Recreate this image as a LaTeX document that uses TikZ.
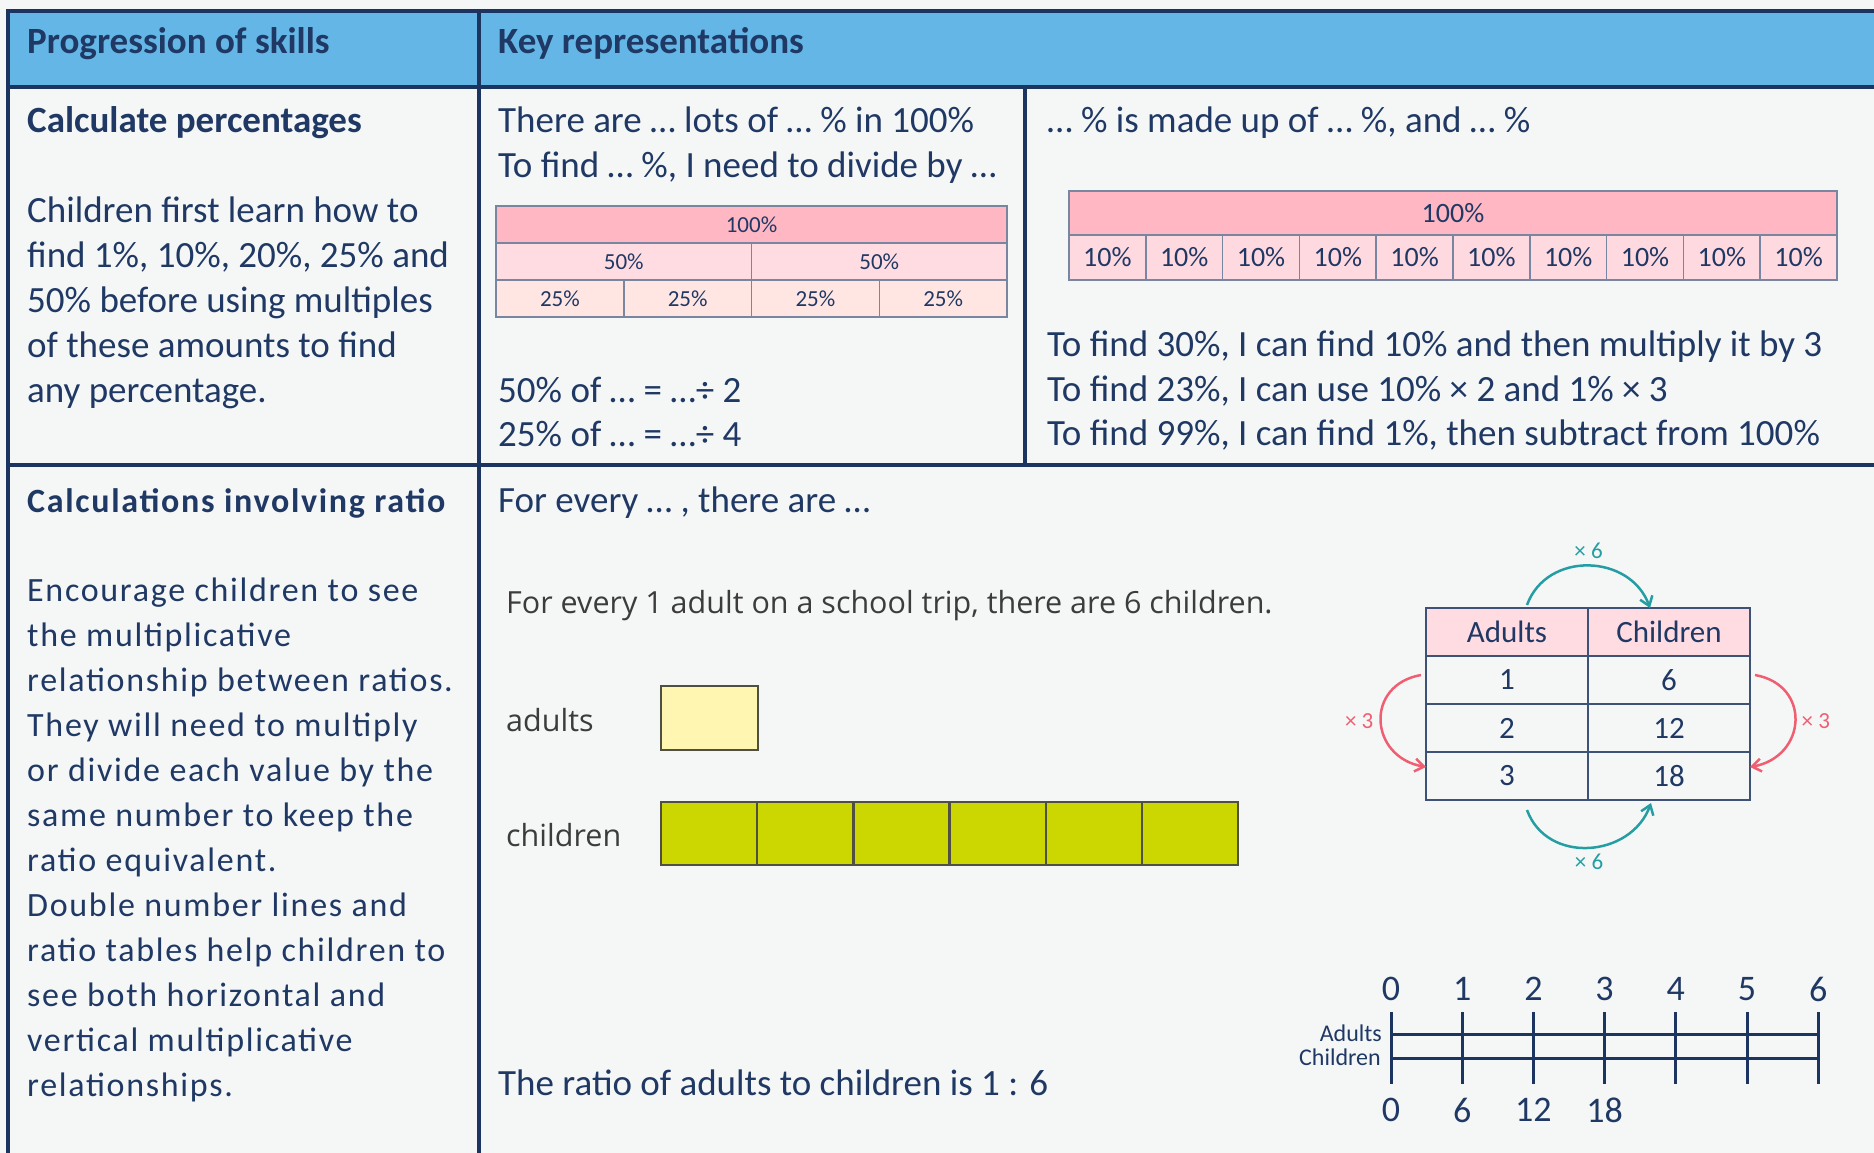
\documentclass[tikz,border=0pt]{standalone}
\usepackage{fontspec}
\setmainfont{Carlito}
\newfontfamily\spacedfont[LetterSpace=5]{Carlito}
\newfontfamily\tripfont{Open Sans}
\usetikzlibrary{arrows.meta,positioning}

\definecolor{navy}{RGB}{31,56,100}
\definecolor{gridline}{RGB}{28,52,96}
\definecolor{headblue}{RGB}{99,182,230}
\definecolor{paper}{RGB}{245,247,247}
\definecolor{pinkA}{RGB}{255,184,195}
\definecolor{pinkB}{RGB}{255,220,226}
\definecolor{pinkC}{RGB}{255,230,227}
\definecolor{pinkD}{RGB}{255,217,224}
\definecolor{barline}{RGB}{120,134,162}
\definecolor{tealarc}{RGB}{36,158,162}
\definecolor{rosearc}{RGB}{240,94,114}
\definecolor{lemon}{RGB}{255,246,178}
\definecolor{lime}{RGB}{204,214,0}
\definecolor{boxline}{RGB}{80,80,66}
\definecolor{tripgrey}{RGB}{60,60,60}

\begin{document}
\begin{tikzpicture}[x=1pt,y=-1pt,
  grid/.style={draw=gridline,line width=3.5pt},
  body/.style={text=navy,inner sep=0,anchor=base west,font=\fontsize{37}{45}\selectfont},
  head/.style={body,font=\bfseries\fontsize{37}{45}\selectfont},
  para/.style={text=navy,inner sep=0,anchor=north west,align=left},
  pct/.style={draw=barline,line width=1.5pt,inner sep=0,outer sep=0,text=navy,minimum height=37pt,font=\fontsize{23}{27}\selectfont},
  tenth/.style={draw=barline,line width=1.5pt,inner sep=0,outer sep=0,text=navy,font=\fontsize{28}{33}\selectfont},
  trip/.style={text=tripgrey,inner sep=0,font=\tripfont\fontsize{30.5}{36}\selectfont},
  block/.style={draw=boxline,line width=2.5pt,inner sep=0,outer sep=0,minimum height=63pt},
  cell/.style={draw=gridline!85,line width=2.5pt,inner sep=0,outer sep=0,minimum width=162pt,minimum height=48pt,text=navy,font=\fontsize{31}{37}\selectfont},
  arcsix/.style={tealarc,line width=2.5pt,-{Straight Barb[length=9pt,width=13pt]}},
  arcthree/.style={rosearc,line width=2.5pt,-{Straight Barb[length=9pt,width=13pt]}},
  numline/.style={gridline,line width=3pt},
  numlab/.style={text=navy,inner sep=0,font=\fontsize{36}{43}\selectfont}
]
  \useasboundingbox (0,0) rectangle (1874,1153);
  \fill[paper] (0,0) rectangle (1874,1153);

  % table frame
  \fill[headblue] (8,11) rectangle (1880,87);
  \draw[grid] (1880,11) -- (8,11) -- (8,1160);
  \draw[grid] (8,87) -- (1880,87);
  \draw[grid] (8,465) -- (1880,465);
  \draw[grid] (479,11) -- (479,1160);
  \draw[grid] (1025,87) -- (1025,465);

  \node[head] (skillhead) at (27,54) {Progression of skills};
  \node[head] (rephead) at (498,54) {Key representations};

  % percentages
  \node[head] (pcttitle) at (27,132) {Calculate percentages};
  \node[para,font=\fontsize{37}{45}\selectfont] (pcttext) at (27,197)
    {Children first learn how to\\find 1\%, 10\%, 20\%, 25\% and\\50\% before using multiples\\of these amounts to find\\any percentage.};

  \node[body] (lots) at (498,132) {There are … lots of … \% in 100\%};
  \node[body] (divide) at (498,177) {To find … \%, I need to divide by …};
  \node[pct,fill=pinkA,minimum width=511pt] (whole) at (751.5,224.5) {100\%};
  \foreach \i in {0,1}
    \node[pct,fill=pinkB,minimum width=255.5pt] (half\i) at ({623.75+255.5*\i},261.5) {50\%};
  \foreach \i in {0,...,3}
    \node[pct,fill=pinkC,minimum width=127.75pt] (quarter\i) at ({559.9+127.75*\i},298.5) {25\%};
  \node[body] (halfrule) at (498,402) {50\% of … = …÷ 2};
  \node[body] (quarterrule) at (498,446) {25\% of … = …÷ 4};

  \node[body] (madeup) at (1047,132) {… \% is made up of … \%, and … \%};
  \node[tenth,fill=pinkA,minimum width=768pt,minimum height=44pt] (full) at (1453,213) {100\%};
  \foreach \i in {0,...,9}
    \node[tenth,fill=pinkD,minimum width=76.8pt,minimum height=45pt] (ten\i) at ({1107.4+76.8*\i},257.5) {10\%};
  \node[body] (find30) at (1047,356) {To find 30\%, I can find 10\% and then multiply it by 3};
  \node[body] (find23) at (1047,401) {To find 23\%, I can use 10\% × 2 and 1\% × 3};
  \node[body] (find99) at (1047,445) {To find 99\%, I can find 1\%, then subtract from 100\%};

  % ratio
  \node[body,font=\spacedfont\bfseries\fontsize{34}{45}\selectfont] (ratiotitle) at (27,512) {Calculations involving ratio};
  \node[para,font=\spacedfont\fontsize{34}{45}\selectfont] (ratiotext) at (27,578)
    {Encourage children to see\\the multiplicative\\relationship between ratios.\\They will need to multiply\\or divide each value by the\\same number to keep the\\ratio equivalent.\\Double number lines and\\ratio tables help children to\\see both horizontal and\\vertical multiplicative\\relationships.};

  \node[body] (everyline) at (498,512) {For every … , there are …};
  \node[trip,anchor=base west] (tripline) at (506,613) {For every 1 adult on a school trip, there are 6 children.};
  \node[trip,anchor=west] (adultlab) at (506,720) {adults};
  \node[trip,anchor=west] (childlab) at (506,835) {children};
  \node[block,fill=lemon,minimum width=97pt,minimum height=64pt] (adultbox) at (709.5,718) {};
  \foreach \i in {0,...,5}
    \node[block,fill=lime,minimum width=96.2pt] (kid\i) at ({709.1+96.2*\i},833.5) {};
  \node[body] (ratioline) at (498,1095) {The ratio of adults to children is 1 : 6};

  % ratio table
  \node[cell,fill=pinkB] (hA) at (1507,632) {Adults};
  \node[cell,fill=pinkB,right=0pt of hA] (hC) {Children};
  \node[cell,below=0pt of hA] (a1) {1};
  \node[cell,below=0pt of hC] (c1) {6};
  \node[cell,below=0pt of a1] (a2) {2};
  \node[cell,below=0pt of c1] (c2) {12};
  \node[cell,below=0pt of a2] (a3) {3};
  \node[cell,below=0pt of c2] (c3) {18};

  \draw[arcsix] ([xshift=20pt,yshift=3pt]hA.north) to[out=70,in=110,looseness=1.2]
    node[above=3pt,font=\fontsize{23}{27}\selectfont] (sixtop) {× 6} ([xshift=-19pt]hC.north);
  \draw[arcsix] ([xshift=20pt,yshift=-10pt]a3.south) to[out=-70,in=-110,looseness=1.2]
    node[below=2pt,font=\fontsize{23}{27}\selectfont] (sixbot) {× 6} ([xshift=-18pt,yshift=-3pt]c3.south);
  \draw[arcthree] ([xshift=-5pt,yshift=5pt]a1.west) to[out=190,in=170,looseness=1.6]
    node[left=3pt,font=\fontsize{23}{27}\selectfont] (threeleft) {× 3} ([yshift=9pt]a3.west);
  \draw[arcthree] ([xshift=5pt,yshift=5pt]c1.east) to[out=-10,in=10,looseness=1.6]
    node[right=2pt,font=\fontsize{23}{27}\selectfont] (threeright) {× 3} ([yshift=9pt]c3.east);

  % double number line
  \draw[numline] (1391,1034) -- (1818,1034);
  \draw[numline] (1391,1058) -- (1818,1058);
  \foreach \i in {0,...,6}{
    \draw[numline] ({1391+71.2*\i},1012) -- ({1391+71.2*\i},1084);
    \node[numlab] (up\i) at ({1391+71.2*\i},989) {\i};
  }
  \foreach \i/\n in {0/0,1/6,2/12,3/18}
    \node[numlab] (down\i) at ({1391+71.2*\i},1110) {\n};
  \node[text=navy,inner sep=0,anchor=east,font=\fontsize{24}{28}\selectfont] (adultaxis) at (1382,1033) {Adults};
  \node[text=navy,inner sep=0,anchor=east,font=\fontsize{24}{28}\selectfont] (childaxis) at (1381,1057) {Children};
\end{tikzpicture}
\end{document}
